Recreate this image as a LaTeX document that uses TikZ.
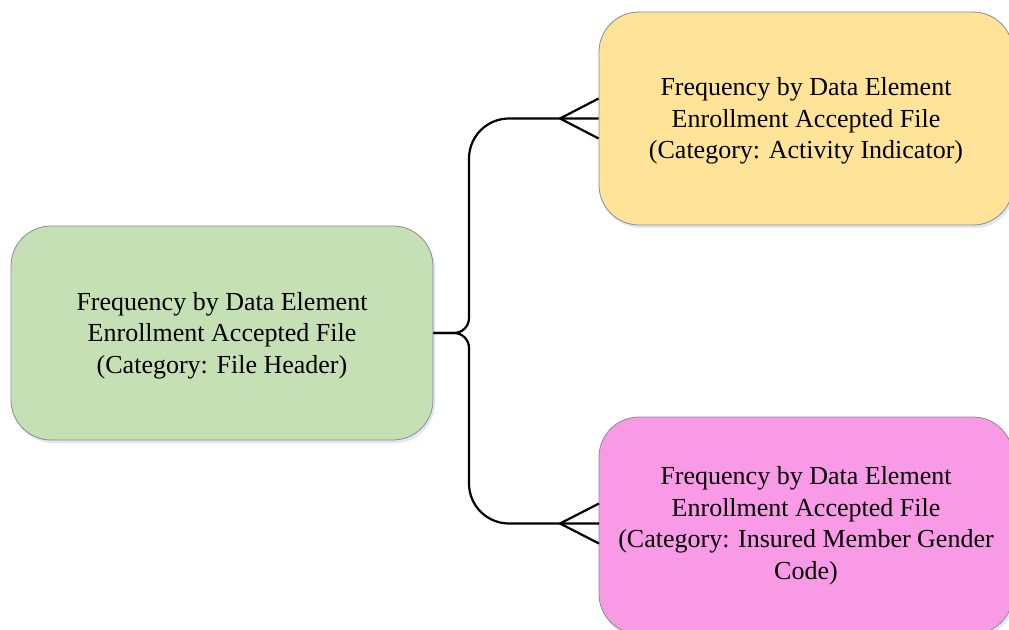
\documentclass[tikz,border=0pt]{standalone}
\usepackage{fontspec}
\setmainfont{Liberation Serif}
\usetikzlibrary{shadows,calc}
\definecolor{boxgreen}{RGB}{197,224,180}
\definecolor{boxyellow}{RGB}{255,227,153}
\definecolor{boxpink}{RGB}{249,154,230}
\definecolor{boxedge}{RGB}{140,140,140}
\definecolor{glow}{RGB}{200,215,240}
% taller first line: pushes the text block slightly down inside its box
\newcommand\firstlinegap{\rule{0pt}{23pt}}
\tikzset{
  entity/.style={draw=boxedge, line width=0.8pt, rounded corners=40pt,
    minimum width=414pt, minimum height=213pt, align=center,
    font=\fontsize{26}{31.5}\selectfont,
    drop shadow={shadow xshift=2pt, shadow yshift=-3pt, fill=glow, opacity=0.6}},
  conn/.style={draw=black, line width=2.2pt},
  foot/.style={draw=black, line width=2.2pt}
}
\begin{document}
\begin{tikzpicture}[x=1pt, y=-1pt]
  \useasboundingbox (0,0) rectangle (1009,629);
  % entity boxes
  \node[entity, fill=boxgreen, minimum width=422pt, minimum height=214pt] (hdr) at (222,333)
    {\firstlinegap Frequency by Data Element\\Enrollment Accepted File\\(Category: File Header)};
  \node[entity, fill=boxyellow] (act) at (806,118.5)
    {\firstlinegap Frequency by Data Element\\Enrollment Accepted File\\(Category: Activity Indicator)};
  \node[entity, fill=boxpink, minimum height=217pt] (gen) at (806,525.5)
    {Frequency by Data Element\\Enrollment Accepted File\\(Category: Insured Member Gender\\Code)};
  % branch points
  \coordinate (split) at (469,333);
  \coordinate (tipA) at (560,118.5);
  \coordinate (tipG) at (560,523.5);
  \coordinate (endG) at (599,523.5);
  % trunk from the header box to both branches
  \draw[conn, rounded corners=15pt] (hdr.east) -| ($(split)+(0,-40)$);
  \draw[conn, rounded corners=15pt] (hdr.east) -| ($(split)+(0,40)$);
  \draw[conn, rounded corners=40pt] ($(split)+(0,-40)$) |- (act.west);
  \draw[conn, rounded corners=40pt] ($(split)+(0,40)$) |- (endG);
  % crow's feet
  \draw[foot] ($(act.west)+(0,-20)$) -- (tipA) -- ($(act.west)+(0,20)$);
  \draw[foot] ($(endG)+(0,-20)$) -- (tipG) -- ($(endG)+(0,20)$);
\end{tikzpicture}
\end{document}
